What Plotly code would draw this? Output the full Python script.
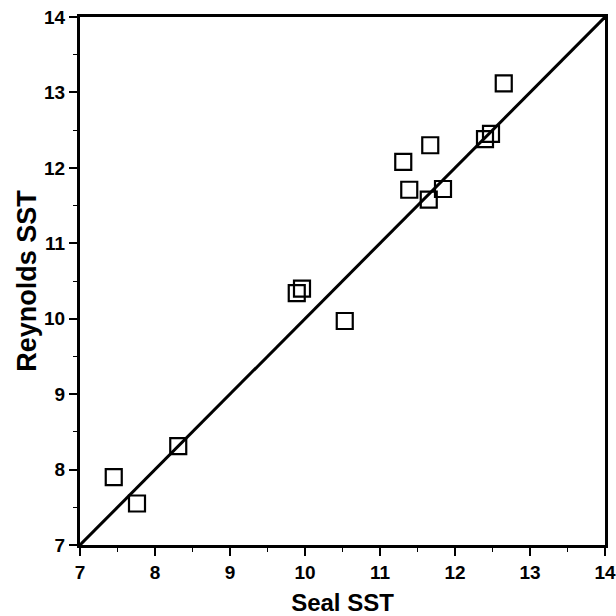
import plotly.graph_objects as go

seal_sst = [7.45, 7.76, 8.31, 9.89, 9.96, 10.53, 12.65, 12.48, 12.40, 11.67, 11.31, 11.39, 11.84, 11.65]
reynolds_sst = [7.90, 7.55, 8.31, 10.34, 10.40, 9.97, 13.12, 12.45, 12.38, 12.30, 12.08, 11.71, 11.72, 11.58]
line_x = [7, 14]
line_y = [7, 14]
tick_vals = [7, 8, 9, 10, 11, 12, 13, 14]
tick_text = ["<b>%d</b>" % v for v in tick_vals]

font_family = "Liberation Sans, Arial, Helvetica, sans-serif"

fig = go.Figure()
fig.add_trace(go.Scatter(x=line_x, y=line_y, mode="lines",
                         line=dict(color="black", width=3), showlegend=False))
fig.add_trace(go.Scatter(x=seal_sst, y=reynolds_sst, mode="markers",
                         marker=dict(symbol="square-open", size=16, color="black",
                                     line=dict(width=2.2, color="black")),
                         showlegend=False))

axis_common = dict(
    range=[7, 14], tickvals=tick_vals, ticktext=tick_text, ticks="outside", ticklen=8, tickwidth=1.5,
    tickcolor="black", showline=True, linewidth=3, linecolor="black", mirror=True,
    showgrid=False, zeroline=False, automargin=False,
    tickfont=dict(family=font_family, size=19, color="black"),
    minor=dict(dtick=0.5, ticks="outside", ticklen=4, tickwidth=1, tickcolor="black", showgrid=False),
)

fig.update_layout(
    width=616, height=616,
    margin=dict(l=80, r=11, t=17, b=71),
    plot_bgcolor="white", paper_bgcolor="white",
    xaxis=dict(**axis_common,
               title=dict(text="<b>Seal SST</b>", standoff=13,
                          font=dict(family=font_family, size=24, color="black"))),
    yaxis=dict(**axis_common,
               title=dict(text="<b>Reynolds SST</b>", standoff=0,
                          font=dict(family=font_family, size=27, color="black"))),
)

fig.write_html("out.html", config={"displayModeBar": False},
               post_script="document.body.style.margin='0';document.body.style.overflow='hidden';")
